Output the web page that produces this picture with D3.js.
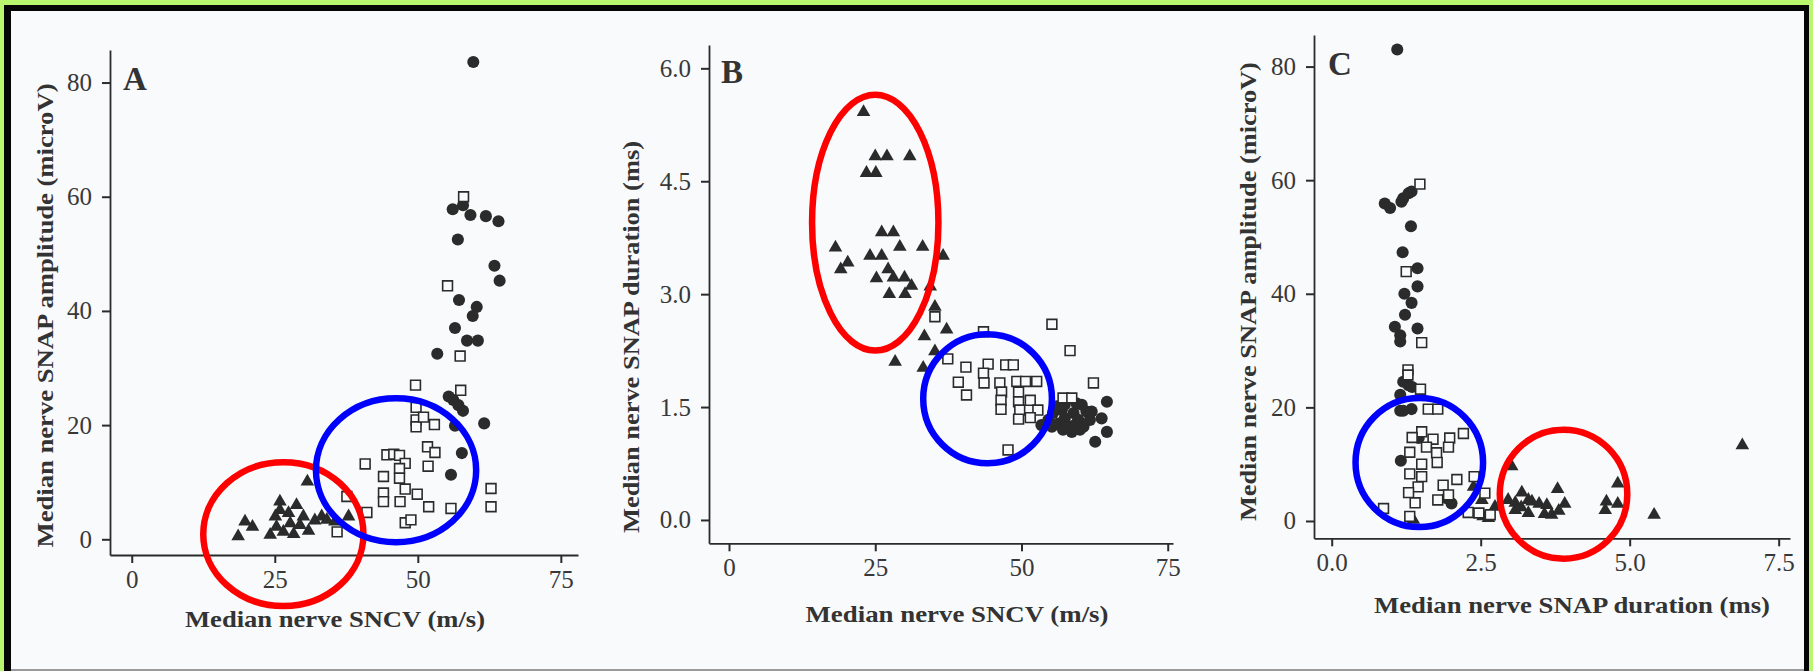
<!DOCTYPE html>
<html>
<head>
<meta charset="utf-8">
<script src="https://cdn.jsdelivr.net/npm/d3@7"></script>
<style>
  html, body { margin: 0; padding: 0; background: #b9f56f; }
  svg { display: block; }
</style>
</head>
<body>
<svg id="viz" width="1813" height="671"></svg>
<script>
const svg = d3.select("#viz");
const W = 1813, H = 671;
const serif = '"Liberation Serif", "Times New Roman", serif';
const ink = "#2b2b2b";
const paper = "#f8fafb";

// Panel A : SNCV (m/s) vs SNAP amplitude (microV)
const aCircles = [
  [59.7,83.6],[56.1,57.8],[57.9,58.5],[59.2,56.8],[61.9,56.6],[64.1,55.7],[57.0,52.5],
  [63.4,47.9],[64.3,45.3],[57.2,41.9],[60.3,40.7],[59.6,39.1],[56.5,37.0],[58.6,34.8],
  [60.5,34.8],[53.4,32.5],[55.4,25.0],[56.2,24.4],[57.1,23.5],[57.9,22.5],[61.6,20.3],
  [56.5,19.9],[57.7,15.1],[55.8,11.3]
];
const aSquares = [
  [58.0,60.0],[55.2,44.4],[57.4,32.1],[49.6,27.0],[57.5,26.1],[49.7,23.1],[49.7,20.9],
  [49.7,19.7],[51.0,21.4],[52.9,20.1],[51.7,16.2],[53.0,15.2],[44.6,14.8],[45.8,14.9],
  [46.8,14.7],[40.8,13.2],[47.8,13.3],[46.8,12.4],[51.8,12.8],[44.0,11.0],[46.8,10.7],
  [37.6,7.5],[44.0,8.1],[44.0,6.6],[47.8,8.8],[46.9,6.6],[49.9,7.9],[51.9,5.7],[55.8,5.4],
  [62.8,8.9],[62.8,5.7],[41.1,4.7],[47.8,2.9],[48.8,3.4],[35.9,1.3]
];
const aTriangles = [
  [30.7,10.1],[25.9,6.6],[25.9,5.1],[28.8,6.0],[19.8,3.1],[21.1,2.2],[18.6,0.5],[24.2,0.8],
  [25.3,2.2],[26.5,1.3],[27.7,2.8],[28.3,0.9],[29.4,2.5],[30.9,1.5],[32.0,3.3],[33.2,4.0],
  [34.1,3.4],[35.5,3.1],[37.9,4.0],[25.1,4.0],[27.4,4.6],[30.0,4.0]
];
const aRings = [
  { color: "#ff0000", cx: 26.5, cy: 0.9, rx: 14.0, ry: 12.6 },
  { color: "#0000ff", cx: 46.2, cy: 12.1, rx: 14.0, ry: 12.6 }
];

// Panel B : SNCV (m/s) vs SNAP duration (ms)
const bTriangles = [
  [23.0,5.42],[25.0,4.83],[27.0,4.83],[30.9,4.83],[23.5,4.61],[25.1,4.61],[26.1,3.82],
  [28.1,3.82],[18.2,3.62],[29.2,3.63],[33.1,3.63],[36.6,3.51],[24.1,3.51],[26.1,3.51],
  [20.3,3.42],[19.1,3.33],[27.2,3.33],[25.2,3.21],[28.1,3.22],[30.0,3.22],[31.2,3.11],
  [27.4,3.00],[30.1,3.00],[34.4,3.10],[35.2,2.83],[37.2,2.53],[33.4,2.44],[28.4,2.10],
  [35.2,2.24],[33.2,2.02]
];
const bSquares = [
  [35.2,2.70],[55.2,2.60],[43.5,2.50],[58.3,2.25],[37.4,2.14],[40.5,2.03],[44.3,2.07],
  [47.3,2.06],[48.6,2.06],[39.2,1.83],[43.5,1.95],[43.6,1.82],[40.6,1.66],[46.3,1.82],
  [46.6,1.70],[46.5,1.59],[46.5,1.47],[49.2,1.84],[50.7,1.84],[52.6,1.84],[49.5,1.70],
  [49.5,1.57],[51.5,1.59],[49.7,1.46],[52.8,1.46],[49.5,1.34],[51.5,1.36],[47.7,0.93],
  [62.3,1.82],[57.1,1.62],[58.6,1.62]
];
const bCircles = [
  [64.6,1.57],[63.7,1.35],[64.6,1.17],[62.6,1.04],[58.6,1.17],[53.4,1.26],[54.6,1.33],
  [55.4,1.42],[56.3,1.28],[56.9,1.46],[57.4,1.35],[58.0,1.24],[58.9,1.42],[59.7,1.33],
  [60.3,1.53],[60.6,1.24],[61.1,1.44],[61.7,1.33],[59.4,1.55],[57.4,1.53],[56.0,1.51],
  [55.2,1.24],[60.0,1.20],[62.0,1.44],[57.1,1.20],[59.1,1.26]
];
const bRings = [
  { color: "#ff0000", cx: 25.0, cy: 3.95, rx: 10.8, ry: 1.70 },
  { color: "#0000ff", cx: 44.2, cy: 1.61, rx: 11.0, ry: 0.857 }
];

// Panel C : SNAP duration (ms) vs SNAP amplitude (microV)
const cCircles = [
  [1.10,83.0],[0.89,55.9],[0.98,55.1],[1.20,56.8],[1.29,57.7],[1.34,58.0],[1.17,56.2],
  [1.33,51.9],[1.19,47.3],[1.44,44.5],[1.44,41.3],[1.22,40.0],[1.34,38.4],[1.23,36.3],
  [1.06,34.2],[1.15,32.7],[1.44,33.9],[1.15,31.6],[1.20,24.5],[1.29,23.9],[1.35,23.6],
  [1.15,22.2],[1.15,19.4],[1.34,19.7],[1.20,19.4],[1.46,14.6],[1.16,10.6],[1.93,4.0],
  [2.01,3.1]
];
const cSquares = [
  [1.48,59.3],[1.25,43.9],[1.51,31.4],[1.28,26.6],[1.28,25.7],[1.49,23.2],[1.62,19.7],
  [1.78,19.7],[1.51,15.7],[1.35,14.7],[1.70,14.4],[1.98,14.6],[2.21,15.4],[1.59,13.0],
  [1.96,13.0],[1.31,12.1],[1.76,12.0],[1.51,10.0],[1.77,10.3],[1.31,8.3],[1.51,7.8],
  [2.10,7.3],[2.39,7.8],[1.45,6.0],[1.29,5.0],[1.40,3.2],[1.87,6.3],[1.78,3.7],[1.96,4.6],
  [0.87,2.2],[1.31,0.8],[2.29,1.5],[2.47,1.4],[2.66,1.1],[2.57,4.9]
];
const cTriangles = [
  [1.37,0.2],[2.38,6.0],[2.52,3.7],[2.54,0.8],[2.63,0.5],[2.74,2.5],[3.02,9.6],[2.96,3.7],
  [3.08,3.2],[3.19,5.0],[3.18,2.4],[3.30,1.4],[3.36,3.4],[3.48,3.0],[3.57,1.2],[3.61,2.8],
  [3.69,1.1],[3.79,5.6],[3.81,1.8],[3.91,3.0],[3.30,3.7],[3.08,1.9],[4.80,6.6],[4.61,3.4],
  [4.59,1.9],[4.80,3.0],[5.41,1.1],[6.89,13.3]
];
const cRings = [
  { color: "#0000ff", cx: 1.47, cy: 10.3, rx: 1.07, ry: 11.36 },
  { color: "#ff0000", cx: 3.89, cy: 4.72, rx: 1.07, ry: 11.36 }
];

// tick labels
const sncvTicks = [0, 25, 50, 75];
const amplitudeTicks = [0, 20, 40, 60, 80];
const durationTicksY = [0, 1.5, 3, 4.5, 6];
const durationTicksX = [0, 2.5, 5, 7.5];

const panels = [
  {
    letter: "A", circles: aCircles, squares: aSquares, triangles: aTriangles, rings: aRings,
    xDomain: [-3.8, 78], xRange: [110, 578], yDomain: [-2.75, 85.7], yRange: [555, 50],
    xTicks: sncvTicks, yTicks: amplitudeTicks, fx: d3.format("d"), fy: d3.format("d"),
    xTitle: "Median nerve SNCV (m/s)", xTitleAt: [335, 627], xTitleLen: 300,
    yTitle: "Median nerve SNAP amplitude (microV)", yTitleAt: [53, 315.5], yTitleLen: 464,
    letterAt: [123, 90]
  },
  {
    letter: "B", circles: bCircles, squares: bSquares, triangles: bTriangles, rings: bRings,
    xDomain: [-3.42, 75.9], xRange: [709, 1173], yDomain: [-0.31, 6.31], yRange: [543.3, 45],
    xTicks: sncvTicks, yTicks: durationTicksY, fx: d3.format("d"), fy: d3.format(".1f"),
    xTitle: "Median nerve SNCV (m/s)", xTitleAt: [957, 622], xTitleLen: 303,
    yTitle: "Median nerve SNAP duration (ms)", yTitleAt: [639, 337], yTitleLen: 392,
    letterAt: [721, 83]
  },
  {
    letter: "C", circles: cCircles, squares: cSquares, triangles: cTriangles, rings: cRings,
    xDomain: [-0.297, 7.69], xRange: [1314, 1790], yDomain: [-3.05, 85.56], yRange: [538.3, 35],
    xTicks: durationTicksX, yTicks: amplitudeTicks, fx: d3.format(".1f"), fy: d3.format("d"),
    xTitle: "Median nerve SNAP duration (ms)", xTitleAt: [1572, 613], xTitleLen: 396,
    yTitle: "Median nerve SNAP amplitude (microV)", yTitleAt: [1256, 291.6], yTitleLen: 459,
    letterAt: [1328, 75]
  }
];

// 枠（緑＋黒）と紙の背景
svg.append("rect").attr("width", W).attr("height", H).attr("fill", "#b9f56f");
svg.append("rect").attr("x", 4).attr("y", 5).attr("width", 1805).attr("height", H)
  .attr("fill", "#050505");
svg.append("rect").attr("x", 11).attr("y", 11).attr("width", 1793).attr("height", H)
  .attr("fill", paper);
svg.append("rect").attr("x", 11).attr("y", 669).attr("width", 1793).attr("height", 2)
  .attr("fill", "#9a9a9a");

const circleSym = d3.symbol().type(d3.symbolCircle).size(115);
const squareSym = d3.symbol().type(d3.symbolSquare).size(96);
const triSym = d3.symbol().type(d3.symbolTriangle).size(80);

panels.forEach(drawPanel);

function drawPanel(p) {
  const x = d3.scaleLinear().domain(p.xDomain).range(p.xRange);
  const y = d3.scaleLinear().domain(p.yDomain).range(p.yRange);
  const g = svg.append("g").attr("class", "panel");

  // 軸
  const xAxis = g.append("g")
    .attr("transform", `translate(0,${p.yRange[0]})`)
    .call(d3.axisBottom(x).tickValues(p.xTicks).tickFormat(p.fx)
      .tickSize(8).tickSizeOuter(0).tickPadding(7));
  const yAxis = g.append("g")
    .attr("transform", `translate(${p.xRange[0]},0)`)
    .call(d3.axisLeft(y).tickValues(p.yTicks).tickFormat(p.fy)
      .tickSize(8).tickSizeOuter(0).tickPadding(10));
  [xAxis, yAxis].forEach(a => {
    a.select(".domain").attr("stroke", ink).attr("stroke-width", 1.8);
    a.selectAll(".tick line").attr("stroke", ink).attr("stroke-width", 2);
    a.selectAll(".tick text").attr("fill", "#383838")
      .style("font-family", serif).style("font-size", "25px");
  });

  // 点
  g.append("g").selectAll("path").data(p.circles).join("path")
    .attr("d", circleSym)
    .attr("transform", d => `translate(${x(d[0])},${y(d[1])})`)
    .attr("fill", ink);
  g.append("g").selectAll("path").data(p.triangles).join("path")
    .attr("d", triSym)
    .attr("transform", d => `translate(${x(d[0])},${y(d[1])})`)
    .attr("fill", ink);
  g.append("g").selectAll("path").data(p.squares).join("path")
    .attr("d", squareSym)
    .attr("transform", d => `translate(${x(d[0])},${y(d[1])})`)
    .attr("fill", paper)
    .attr("stroke", ink)
    .attr("stroke-width", 1.6);

  // パネル記号
  g.append("text")
    .attr("x", p.letterAt[0]).attr("y", p.letterAt[1])
    .text(p.letter)
    .style("font-family", serif).style("font-weight", "bold").style("font-size", "33px")
    .attr("fill", "#333");

  // 軸タイトル
  g.append("text")
    .attr("x", p.xTitleAt[0]).attr("y", p.xTitleAt[1])
    .attr("text-anchor", "middle")
    .attr("textLength", p.xTitleLen).attr("lengthAdjust", "spacingAndGlyphs")
    .text(p.xTitle)
    .style("font-family", serif).style("font-weight", "bold").style("font-size", "24px")
    .attr("fill", "#333");
  g.append("text")
    .attr("transform", `translate(${p.yTitleAt[0]},${p.yTitleAt[1]}) rotate(-90)`)
    .attr("text-anchor", "middle")
    .attr("textLength", p.yTitleLen).attr("lengthAdjust", "spacingAndGlyphs")
    .text(p.yTitle)
    .style("font-family", serif).style("font-weight", "bold").style("font-size", "24px")
    .attr("fill", "#333");

  // 強調の楕円
  g.append("g").selectAll("ellipse").data(p.rings).join("ellipse")
    .attr("cx", d => x(d.cx))
    .attr("cy", d => y(d.cy))
    .attr("rx", d => x(d.cx + d.rx) - x(d.cx))
    .attr("ry", d => y(d.cy - d.ry) - y(d.cy))
    .attr("fill", "none")
    .attr("stroke", d => d.color)
    .attr("stroke-width", 6.5);
}
</script>
</body>
</html>
